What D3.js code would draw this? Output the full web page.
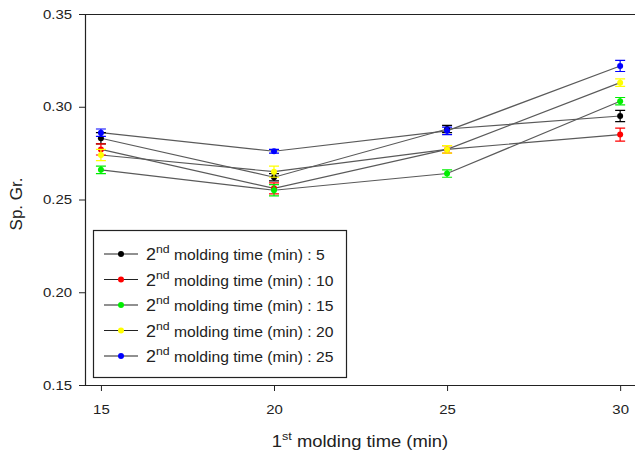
<!DOCTYPE html>
<html>
  <head>
    <meta charset="utf-8">
    <style>
      body { margin: 0; background: #fff; }
      text { font-family: "Liberation Sans", Arial, sans-serif; fill: #222; }
    </style>
  </head>
  <body>
    <script src="https://d3js.org/d3.v7.min.js"></script>
    <svg id="chart" width="635" height="452"></svg>
    <script>
      // 1st molding time (min)
      firstTimes = [15, 20, 25, 30]
      // 2nd molding time (min), one series each
      secondTimes = [5, 10, 15, 20, 25]
      colors = ['#000000', '#ff0000', '#00ee00', '#ffff00', '#0000ff']

      spGr5  = [0.283, 0.262, 0.288, 0.295]
      spGr10 = [0.277, 0.256, 0.277, 0.285]
      spGr15 = [0.266, 0.255, 0.264, 0.303]
      spGr20 = [0.274, 0.265, 0.277, 0.313]
      spGr25 = [0.286, 0.276, 0.287, 0.322]

      err5  = [0.003, 0.002, 0.002, 0.003]
      err10 = [0.003, 0.003, 0.002, 0.0035]
      err15 = [0.002, 0.003, 0.002, 0.002]
      err20 = [0.003, 0.003, 0.002, 0.002]
      err25 = [0.002, 0.001, 0.002, 0.003]

      yTicks = [0.15, 0.20, 0.25, 0.30, 0.35]

      values = [spGr5, spGr10, spGr15, spGr20, spGr25]
      errors = [err5, err10, err15, err20, err25]

      // the original text is a bit wider than Arial
      stretch = 'scale(1.15,1)'

      let svg = d3.select('#chart')

      let x = d3.scaleLinear().domain([14.54, 30.4]).range([85, 634])
      let y = d3.scaleLinear().domain([0.15, 0.35]).range([385, 14])

      // axes
      svg.append('g')
        .attr('transform', 'translate(0,385)')
        .call(d3.axisBottom(x).tickValues(firstTimes).tickSize(6).tickPadding(14).tickFormat(d3.format('d')))
        .selectAll('.tick text')
        .attr('transform', stretch)
      svg.append('g')
        .attr('transform', 'translate(85,0)')
        .call(d3.axisLeft(y).tickValues(yTicks).tickSize(6).tickPadding(7).tickFormat(d3.format('.2f')))
        .selectAll('.tick text')
        .attr('x', 0)
        .attr('transform', 'translate(-13,0) ' + stretch)
      svg.selectAll('.domain').remove()
      svg.selectAll('.tick line').attr('stroke', '#222')
      svg.selectAll('.tick text').style('font-size', '13px').attr('fill', '#222')

      // frame
      svg.append('path')
        .attr('d', 'M635,14.5H85.5V385.5H635')
        .attr('fill', 'none')
        .attr('stroke', '#222')
        .attr('stroke-width', 1.2)

      // lines
      let line = d3.line()
        .x((d, i) => x(firstTimes[i]))
        .y(d => y(d))
      values.forEach(vals => {
        svg.append('path')
          .datum(vals)
          .attr('d', line)
          .attr('fill', 'none')
          .attr('stroke', '#5a5a5a')
          .attr('stroke-width', 1.2)
      })

      // error bars and markers
      values.forEach((vals, s) => {
        let g = svg.append('g')
        vals.forEach((v, i) => {
          let cx = x(firstTimes[i])
          let e = errors[s][i]
          g.append('path')
            .attr('d', `M${cx},${y(v + e)}V${y(v - e)}M${cx - 5},${y(v + e)}H${cx + 5}M${cx - 5},${y(v - e)}H${cx + 5}`)
            .attr('stroke', colors[s])
            .attr('stroke-width', 1.2)
            .attr('fill', 'none')
          g.append('circle')
            .attr('cx', cx)
            .attr('cy', y(v))
            .attr('r', 3)
            .attr('fill', colors[s])
        })
      })

      // axis titles
      let xt = svg.append('text')
        .attr('transform', 'translate(360,447) ' + stretch)
        .attr('text-anchor', 'middle')
        .style('font-size', '16px')
      xt.append('tspan').text('1')
      xt.append('tspan').attr('dy', -7).style('font-size', '11px').text('st')
      xt.append('tspan').attr('dy', 7).text(' molding time (min)')

      svg.append('text')
        .attr('transform', 'translate(22,204) rotate(-90)')
        .attr('text-anchor', 'middle')
        .style('font-size', '17px')
        .text('Sp. Gr.')

      // legend
      svg.append('rect')
        .attr('x', 93.5)
        .attr('y', 230.5)
        .attr('width', 253)
        .attr('height', 147)
        .attr('fill', '#fff')
        .attr('stroke', '#222')
        .attr('stroke-width', 1.2)

      secondTimes.forEach((t, s) => {
        let ly = 254 + s * 25.5
        svg.append('line')
          .attr('x1', 104).attr('x2', 138)
          .attr('y1', ly).attr('y2', ly)
          .attr('stroke', '#222')
          .attr('stroke-width', 1.2)
        svg.append('circle')
          .attr('cx', 121).attr('cy', ly).attr('r', 3)
          .attr('fill', colors[s])
        let lt = svg.append('text')
          .attr('transform', `translate(146,${ly + 6}) scale(1.12,1)`)
          .style('font-size', '14px')
        lt.append('tspan').style('font-size', '16px').text('2')
        lt.append('tspan').attr('dy', -7).style('font-size', '11px').text('nd')
        lt.append('tspan').attr('dy', 7).text(' molding time (min) : ' + t)
      })
    </script>
  </body>
</html>
